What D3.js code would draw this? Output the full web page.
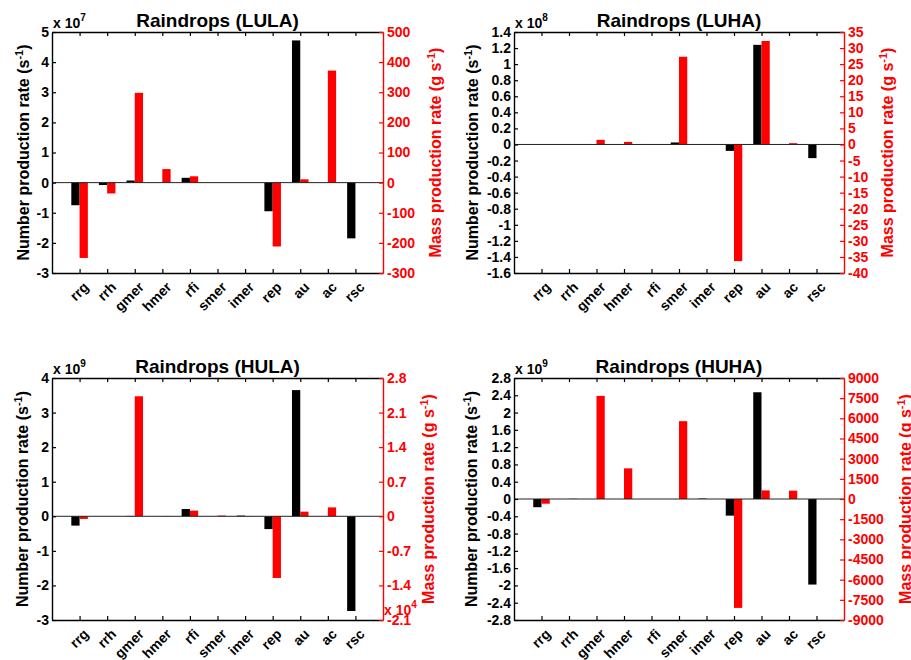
<!DOCTYPE html>
<html>
<head>
<meta charset="utf-8">
<script src="https://cdn.jsdelivr.net/npm/d3@7"></script>
<style>
  body { margin: 0; background: #fff; }
  svg text { font-family: "Liberation Sans", Arial, sans-serif; font-weight: bold; }
</style>
</head>
<body>
<div id="chart"></div>
<script>
// ---- data (values in the units shown on each axis) ----
const categories = ['rrg', 'rrh', 'gmer', 'hmer', 'rfi', 'smer', 'imer', 'rep', 'au', 'ac', 'rsc'];

// LULA: number x 10^7 s^-1, mass g s^-1
const lulaNumber = [-0.75, -0.08, 0.07, 0, 0.16, 0, 0, -0.95, 4.72, 0, -1.85];
const lulaMass = [-250, -36, 298, 45, 21, 0, 0, -212, 11, 372, 0];
const lulaLeftTicks = [-3, -2, -1, 0, 1, 2, 3, 4, 5];
const lulaRightTicks = [-300, -200, -100, 0, 100, 200, 300, 400, 500];

// LUHA: number x 10^8 s^-1, mass g s^-1
const luhaNumber = [0, 0, 0, 0, 0, 0.025, 0, -0.08, 1.24, 0, -0.17];
const luhaMass = [0, 0, 1.45, 0.8, 0.1, 27.3, 0.1, -36.3, 32.2, 0.4, 0];
const luhaLeftTicks = [-1.6, -1.4, -1.2, -1, -0.8, -0.6, -0.4, -0.2, 0, 0.2, 0.4, 0.6, 0.8, 1, 1.2, 1.4];
const luhaRightTicks = [-40, -35, -30, -25, -20, -15, -10, -5, 0, 5, 10, 15, 20, 25, 30, 35];

// HULA: number x 10^9 s^-1, mass x 10^4 g s^-1
const hulaNumber = [-0.27, 0, 0.01, 0, 0.21, 0, 0.02, -0.37, 3.65, 0, -2.74];
const hulaMass = [-0.054, 0, 2.43, 0.005, 0.115, 0.015, 0.005, -1.25, 0.094, 0.18, 0];
const hulaLeftTicks = [-3, -2, -1, 0, 1, 2, 3, 4];
const hulaRightTicks = [-2.1, -1.4, -0.7, 0, 0.7, 1.4, 2.1, 2.8];

// HUHA: number x 10^9 s^-1, mass g s^-1
const huhaNumber = [-0.19, 0, 0, 0, 0, 0, 0.01, -0.385, 2.47, 0, -1.98];
const huhaMass = [-350, 20, 7670, 2280, 0, 5790, 0, -8100, 640, 620, 0];
const huhaLeftTicks = [-2.8, -2.4, -2, -1.6, -1.2, -0.8, -0.4, 0, 0.4, 0.8, 1.2, 1.6, 2, 2.4, 2.8];
const huhaRightTicks = [-9000, -7500, -6000, -4500, -3000, -1500, 0, 1500, 3000, 4500, 6000, 7500, 9000];

// ---- layout ----
const panels = [
  { title: 'Raindrops (LULA)', number: lulaNumber, mass: lulaMass, leftTicks: lulaLeftTicks, rightTicks: lulaRightTicks,
    leftExp: '7', rightExp: null, box: [52, 383, 32, 273], leftLab: 28, rightLab: 53 },
  { title: 'Raindrops (LUHA)', number: luhaNumber, mass: luhaMass, leftTicks: luhaLeftTicks, rightTicks: luhaRightTicks,
    leftExp: '8', rightExp: null, box: [514, 844, 32, 273], leftLab: 41, rightLab: 44 },
  { title: 'Raindrops (HULA)', number: hulaNumber, mass: hulaMass, leftTicks: hulaLeftTicks, rightTicks: hulaRightTicks,
    leftExp: '9', rightExp: '4', box: [52, 383, 378, 620], leftLab: 29, rightLab: 46 },
  { title: 'Raindrops (HUHA)', number: huhaNumber, mass: huhaMass, leftTicks: huhaLeftTicks, rightTicks: huhaRightTicks,
    leftExp: '9', rightExp: null, box: [514, 844, 378, 620], leftLab: 42, rightLab: 62 }
];

const RED = '#ff0000';
const W = 911, H = 660;

const svg = d3.select('#chart').append('svg')
  .attr('width', W).attr('height', H)
  .attr('viewBox', `0 0 ${W} ${H}`);

panels.forEach(p => {
  const [x0, x1, y0, y1] = p.box;
  const g = svg.append('g');

  const x = d3.scaleLinear().domain([0, categories.length + 1]).range([x0, x1]);
  const yL = d3.scaleLinear().domain(d3.extent(p.leftTicks)).range([y1, y0]);
  const yR = d3.scaleLinear().domain(d3.extent(p.rightTicks)).range([y1, y0]);
  const bw = 0.3;

  // Number bars (black, left of the tick)
  g.selectAll('.nbar')
    .data(p.number)
    .enter()
    .append('rect')
    .attr('x', (d, i) => x(i + 1 - bw))
    .attr('width', (d, i) => x(i + 1) - x(i + 1 - bw))
    .attr('y', d => Math.min(yL(d), yL(0)))
    .attr('height', d => Math.abs(yL(d) - yL(0)))
    .attr('fill', '#000');

  // Mass bars (red, right of the tick)
  g.selectAll('.mbar')
    .data(p.mass)
    .enter()
    .append('rect')
    .attr('x', (d, i) => x(i + 1))
    .attr('width', (d, i) => x(i + 1 + bw) - x(i + 1))
    .attr('y', d => Math.min(yR(d), yR(0)))
    .attr('height', d => Math.abs(yR(d) - yR(0)))
    .attr('fill', RED);

  // zero line
  g.append('line')
    .attr('x1', x0).attr('x2', x1)
    .attr('y1', yL(0)).attr('y2', yL(0))
    .attr('stroke', '#222').attr('stroke-width', 1);

  const ticksX = d3.range(1, categories.length + 1);

  // bottom axis (ticks), category labels slanted below
  g.append('g')
    .attr('transform', `translate(0,${y1})`)
    .call(d3.axisBottom(x).tickValues(ticksX).tickSize(-4).tickSizeOuter(0).tickFormat(''));

  g.append('g')
    .selectAll('g')
    .data(categories)
    .enter()
    .append('g')
    .attr('transform', (d, i) => `translate(${x(i + 1) + 10},${y1 + 15})`)
    .append('g')
    .attr('transform', 'rotate(-45)')
    .append('text')
    .attr('text-anchor', 'end')
    .style('font-size', '14px')
    .text(d => d);

  // top axis (ticks only)
  g.append('g')
    .attr('transform', `translate(0,${y0})`)
    .call(d3.axisTop(x).tickValues(ticksX).tickSize(-4).tickSizeOuter(0).tickFormat(''));

  // left axis
  g.append('g')
    .attr('transform', `translate(${x0},0)`)
    .call(d3.axisLeft(yL).tickValues(p.leftTicks).tickSize(-4).tickSizeOuter(0).tickPadding(3)
      .tickFormat(d => String(d)));

  // right axis (red)
  const right = g.append('g')
    .attr('transform', `translate(${x1},0)`)
    .call(d3.axisRight(yR).tickValues(p.rightTicks).tickSize(-4).tickSizeOuter(0).tickPadding(4)
      .tickFormat(d => String(d)));
  right.selectAll('path, line').attr('stroke', RED);
  right.selectAll('text').attr('fill', RED);

  g.selectAll('.domain').attr('stroke-width', 1.4);
  g.selectAll('.tick line').attr('stroke-width', 1.2);
  g.selectAll('.tick text')
    .style('font-size', '14px')
    .style('font-family', '"Liberation Sans", Arial, sans-serif')
    .style('font-weight', 'bold');

  // title
  g.append('text')
    .attr('x', (x0 + x1) / 2).attr('y', y0 - 5)
    .attr('text-anchor', 'middle')
    .style('font-size', '19px')
    .text(p.title);

  // left exponent
  const le = g.append('text')
    .attr('x', x0 + 1).attr('y', y0 - 4)
    .style('font-size', '14px');
  le.append('tspan').text('x 10');
  le.append('tspan').attr('dy', -7).style('font-size', '10px').text(p.leftExp);

  if (p.rightExp) {
    const re = g.append('text')
      .attr('x', x1 + 1).attr('y', y1 - 5)
      .attr('fill', RED)
      .style('font-size', '14px');
    re.append('tspan').text('x 10');
    re.append('tspan').attr('dy', -7).style('font-size', '10px').text(p.rightExp);
  }

  const ymid = (y0 + y1) / 2;

  // left y label
  const ll = g.append('text')
    .attr('transform', `translate(${x0 - p.leftLab + 5},${ymid}) rotate(-90)`)
    .attr('text-anchor', 'middle')
    .style('font-size', '16px');
  ll.append('tspan').text('Number production rate (s');
  ll.append('tspan').attr('dy', -6).style('font-size', '11px').text('-1');
  ll.append('tspan').attr('dy', 6).text(')');

  // right y label
  const rl = g.append('text')
    .attr('transform', `translate(${x1 + p.rightLab + 5},${ymid}) rotate(-90)`)
    .attr('text-anchor', 'middle')
    .attr('fill', RED)
    .style('font-size', '16px');
  rl.append('tspan').text('Mass production rate (g s');
  rl.append('tspan').attr('dy', -6).style('font-size', '11px').text('-1');
  rl.append('tspan').attr('dy', 6).text(')');
});
</script>
</body>
</html>
